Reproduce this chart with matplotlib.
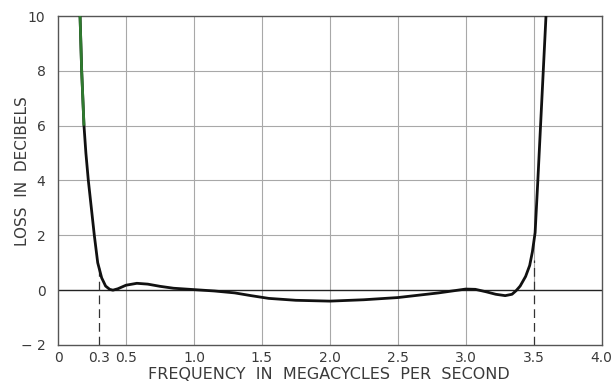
import matplotlib.pyplot as plt

# loss curve (MHz, dB)
freq = [0.162, 0.174, 0.191, 0.205, 0.223, 0.245, 0.267, 0.292, 0.321, 0.35, 0.38, 0.404,
        0.44, 0.5, 0.58, 0.66, 0.75, 0.85, 1.0, 1.15, 1.3, 1.42, 1.55, 1.75, 2.0, 2.25, 2.5, 2.8,
        3.0, 3.07, 3.15, 3.22, 3.29, 3.34, 3.37, 3.40, 3.44, 3.47, 3.49, 3.51, 3.53, 3.55,
        3.57, 3.59]
loss = [10.0, 8.0, 6.0, 5.0, 4.0, 3.0, 2.0, 1.0, 0.45, 0.15, 0.03, 0.0,
        0.05, 0.18, 0.25, 0.22, 0.14, 0.07, 0.02, -0.03, -0.1, -0.2, -0.3, -0.37, -0.4, -0.35, -0.27, -0.1,
        0.04, 0.03, -0.06, -0.15, -0.2, -0.15, -0.02, 0.15, 0.5, 0.9, 1.4, 2.1, 4.0, 6.0,
        8.0, 10.0]
grid_x = [0.5, 1.0, 1.5, 2.0, 2.5, 3.0]
grid_y = [2, 4, 6, 8]
cutoffs = [0.3, 3.5]
cutoff_loss = [1.0, 1.1]
xticks = [0, 0.3, 0.5, 1.0, 1.5, 2.0, 2.5, 3.0, 3.5, 4.0]
xlabels = ['0', '0.3', '0.5', '1.0', '1.5', '2.0', '2.5', '3.0', '3.5', '4.0']
yticks = [-2, 0, 2, 4, 6, 8, 10]
ylabels = ['\u2212 2', '0', '2', '4', '6', '8', '10']

txt = '#3a3a3a'
gc = '#a8a8a8'

fig = plt.figure(figsize=(6.14, 3.84), dpi=100)
ax = fig.add_axes([0.0945, 0.1016, 0.8855, 0.8567])
ax.set_xlim(0, 4)
ax.set_ylim(-2, 10)

for gx in grid_x:
    ax.plot([gx, gx], [-2, 10], color=gc, lw=0.8, zorder=1)
for gy in grid_y:
    ax.plot([0, 4], [gy, gy], color=gc, lw=0.8, zorder=1)
ax.plot([3.5, 3.5], [0, 10], color=gc, lw=0.8, zorder=1)
ax.axhline(0, color='#222222', lw=1.0, zorder=2)
for cx, cl in zip(cutoffs, cutoff_loss):
    ax.plot([cx, cx], [-2, cl], color='#333333', lw=0.9, ls=(0, (7, 4)), zorder=2)

ax.plot(freq, loss, color='#111111', lw=2.0, zorder=3, solid_capstyle='butt')
# greenish tint on the top of the left skirt (scan colour)
ax.plot(freq[:3], loss[:3], color='#2f7a2f', lw=2.0, zorder=4, solid_capstyle='butt')

for s in ax.spines.values():
    s.set_color('#555555')
    s.set_linewidth(1.0)

ax.set_xticks(xticks)
ax.set_xticklabels(xlabels)
ax.set_yticks(yticks)
ax.set_yticklabels(ylabels)
ax.tick_params(length=0, labelsize=10, colors=txt)
ax.tick_params(axis='x', pad=4)
ax.tick_params(axis='y', pad=9)
ax.set_xlabel('FREQUENCY  IN  MEGACYCLES  PER  SECOND', fontsize=11.5, color=txt, va='center')
ax.set_ylabel('LOSS  IN  DECIBELS', fontsize=11, color=txt, va='center')
ax.xaxis.set_label_coords(0.498, -0.091)
ax.yaxis.set_label_coords(-0.066, 0.53)

fig.savefig('out.png', dpi=100)
